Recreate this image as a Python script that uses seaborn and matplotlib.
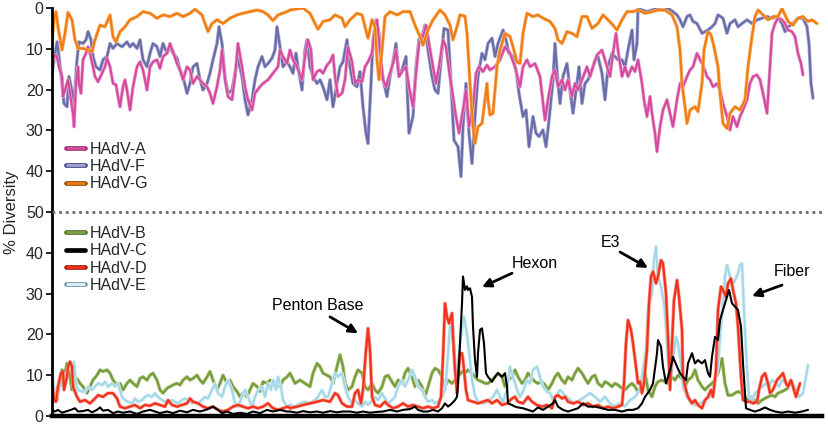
import matplotlib
matplotlib.use("Agg")
import matplotlib.pyplot as plt
import matplotlib.patheffects as pe
import seaborn as sns

# ---------------- data (position along genome, % diversity) ----------------
A_pts = [(0,13.6),(1,12.7),(3,11.5),(5,11.9),(7,14.4),(10,16.8),(11,21.7),(14,19.3),(16,17.6),(19,22.5),
(21,25.8),(22,29.1),(24,18.5),(26,14.4),(27,18.5),(29,20.9),(31,12.7),(34,11.1),(36,9.5),(38,11.1),
(41,14.4),(43,16.8),(46,18.1),(50,16.0),(53,14.4),(55,12.3),(58,14.4),(61,18.5),(64,18.8),(66,21.7),
(68,24.2),(71,19.3),(73,17.6),(75,20.1),(78,25.0),(81,19.3),(85,14.4),(88,13.2),(91,15.2),(95,20.1),
(98,14.4),(101,13.2),(105,12.7),(108,14.8),(111,11.9),(115,11.1),(118,8.7),(121,10.7),(125,13.6),(128,15.2),
(131,17.6),(135,14.4),(138,15.2),(141,18.5),(145,16.8),(148,17.6),(151,18.5),(155,19.3),(158,20.9),(161,23.4),
(165,19.3),(168,15.2),(170,10.3),(173,17.6),(176,21.7),(180,22.5),(183,16.8),(186,8.7),(190,14.4),(193,19.3),
(196,22.5),(200,25.0),(203,20.9),(208,19.3),(211,18.5),(216,17.6),(221,16.0),(226,14.4),(228,10.3),(231,11.9),
(235,13.6),(238,10.3),(241,12.7),(245,14.4),(250,17.6),(253,11.9),(256,7.8),(259,10.3),(261,17.6),(265,15.6),
(268,15.2),(271,16.0),(275,14.0),(278,13.2),(281,11.5),(283,16.8),(286,21.7),(290,20.9),(293,17.6),(296,9.5),
(300,13.2),(303,18.5),(306,17.6),(310,18.1),(313,14.4),(316,13.2),(320,11.1),(323,5.0),(325,2.9),(328,10.3),
(331,17.6),(334,19.3),(337,16.8),(341,13.6),(344,10.3),(347,16.8),(351,15.2),(354,14.4),(357,19.3),(361,24.2),
(364,16.0),(367,8.7),(371,7.0),(374,4.2),(377,8.7),(381,14.4),(384,18.5),(387,14.4),(391,7.8),(394,9.5),
(397,15.2),(401,21.7),(404,26.6),(407,30.7),(411,25.0),(414,20.1),(417,29.1),(421,24.2),(424,16.0),(427,14.4),
(431,15.6),(435,14.0),(438,15.2),(443,14.4),(448,12.7),(453,9.5),(458,11.1),(463,14.4),(468,19.3),(471,14.4),
(475,12.7),(478,14.4),(483,13.6),(488,16.8),(493,27.5),(496,22.5),(500,16.8),(503,15.2),(506,19.3),(510,17.6),
(513,20.1),(516,17.6),(520,21.7),(523,18.5),(526,20.1),(530,17.6),(535,14.4),(538,16.8),(541,14.4),(545,11.5),
(550,10.3),(555,14.4),(558,16.8),(561,11.1),(564,6.2),(566,10.3),(570,16.8),(573,14.4),(576,16.8),(580,14.4),
(583,15.6),(586,12.7),(590,18.5),(592,22.5),(595,26.6),(598,21.7),(600,25.8),(603,30.7),(605,35.2),(608,29.1),
(611,25.0),(615,22.5),(618,25.8),(621,29.1),(625,22.5),(628,18.5),(631,19.3),(635,16.8),(638,15.2),(641,14.4),
(645,11.1),(648,12.7),(651,14.0),(655,16.8),(658,17.6),(661,19.3),(665,18.5),(668,20.1),(671,23.4),(675,26.6),
(678,29.9),(681,26.6),(685,29.1),(688,26.6),(691,25.0),(695,22.5),(698,18.5),(701,16.8),(705,16.4),(708,17.6),
(711,20.9),(715,25.8),(718,14.4),(720,6.2),(723,3.8),(726,2.5),(730,2.9),(733,3.8),(736,5.4),(740,5.8),
(743,7.0),(746,11.1),(749,13.6),(751,16.4)]

F_pts = [(0,16.8),(1,14.4),(5,8.3),(7,11.9),(10,18.5),(12,23.4),(15,24.2),(17,16.8),(20,20.5),(22,23.4),
(25,12.7),(27,8.3),(31,8.7),(34,7.8),(36,5.8),(39,7.8),(41,11.9),(44,14.4),(48,15.2),(51,12.7),
(55,11.9),(58,8.7),(61,9.9),(65,8.7),(70,9.5),(75,8.3),(78,9.5),(81,8.7),(85,9.9),(88,7.8),
(91,12.7),(95,14.4),(98,11.1),(101,8.7),(105,9.5),(108,11.9),(111,8.7),(115,11.1),(118,9.5),(121,11.1),
(125,12.3),(128,15.2),(131,16.8),(135,20.9),(138,18.5),(141,14.4),(145,13.6),(148,17.6),(151,20.1),(155,18.5),
(158,16.0),(161,12.7),(165,8.7),(167,4.6),(170,8.7),(173,16.8),(176,20.9),(180,20.1),(183,16.0),(186,12.3),
(190,16.8),(193,22.5),(196,26.2),(200,22.5),(203,17.6),(206,14.4),(210,11.9),(213,14.4),(216,13.6),(220,12.3),
(223,10.3),(225,4.6),(228,9.5),(231,14.4),(235,13.2),(238,14.4),(241,16.0),(244,11.1),(246,14.4),(250,20.1),
(253,10.3),(255,7.8),(258,14.4),(261,16.8),(265,18.5),(268,17.6),(271,19.3),(275,22.5),(278,17.6),(281,24.2),
(285,18.5),(288,14.4),(291,13.2),(295,7.8),(298,14.4),(301,18.5),(305,19.3),(308,15.6),(311,24.2),(314,30.7),
(316,33.2),(319,18.5),(321,7.8),(324,2.9),(327,6.2),(329,14.4),(332,18.5),(335,21.7),(338,16.8),(341,13.2),
(344,8.7),(347,16.8),(351,14.4),(354,11.9),(357,30.7),(361,26.6),(364,14.4),(367,7.8),(371,6.2),(373,4.2),
(376,10.3),(380,16.8),(383,20.1),(386,20.9),(390,10.3),(392,5.0),(396,5.4),(399,18.5),(402,32.4),(406,34.0),
(409,41.3),(411,29.1),(414,18.5),(417,30.7),(420,38.1),(423,26.6),(426,16.8),(430,11.1),(433,12.7),(436,8.7),
(440,7.4),(443,11.9),(446,8.7),(451,5.4),(454,7.8),(457,11.1),(461,11.9),(464,15.2),(467,20.9),(471,26.6),
(474,25.0),(477,34.0),(481,26.6),(484,30.7),(487,31.5),(491,29.9),(494,34.0),(497,27.5),(501,17.6),(503,8.7),
(506,18.5),(508,23.4),(511,16.8),(515,13.6),(518,20.1),(521,25.8),(525,18.5),(527,14.4),(530,23.4),(533,18.5),
(536,17.6),(540,15.2),(543,12.7),(546,11.9),(550,16.0),(553,22.5),(556,14.4),(560,11.1),(563,11.9),(566,12.7),
(570,12.7),(573,14.4),(576,10.3),(580,5.4),(582,12.7),(585,8.7),(586,0.1),(590,0.5),(595,0.9),(600,0.5),
(605,0.1),(610,0.5),(616,0.1),(621,0.9),(625,1.7),(628,2.9),(631,4.6),(635,2.1),(638,1.7),(641,3.3),
(645,3.8),(650,6.2),(653,5.8),(656,5.4),(660,4.6),(663,3.8),(666,1.7),(671,2.5),(675,6.2),(678,3.8),
(683,2.9),(686,4.6),(690,3.8),(695,2.9),(700,3.8),(705,2.9),(710,2.5),(715,2.1),(720,2.5),(725,2.1),
(730,3.8),(733,5.8),(736,4.6),(741,3.8),(746,2.5),(751,2.5),(755,4.6),(757,8.7),(759,18.5),(761,22.1)]

G_pts = [(0,8.3),(2,2.9),(4,0.9),(6,4.6),(10,10.3),(13,6.2),(16,1.1),(20,2.9),(23,7.8),(26,9.9),
(31,9.9),(36,10.3),(40,10.7),(43,7.8),(48,4.2),(53,4.6),(58,1.7),(61,7.0),(64,8.3),(68,5.8),
(73,4.6),(78,2.9),(85,2.1),(91,0.9),(98,1.3),(105,2.5),(111,1.7),(118,2.1),(125,1.3),(131,2.1),
(138,1.3),(143,0.3),(150,1.7),(153,3.8),(156,5.8),(160,3.8),(165,2.9),(171,3.8),(178,2.5),(185,1.7),
(191,1.3),(198,0.9),(205,0.5),(211,0.9),(216,1.7),(221,3.1),(226,1.7),(235,0.9),(238,0.5),(251,0.0),
(258,1.3),(263,3.8),(266,5.2),(271,3.3),(278,2.9),(283,1.7),(290,2.5),(293,4.6),(298,2.9),(305,1.3),
(310,1.7),(313,4.6),(316,7.4),(320,2.9),(323,4.6),(325,12.7),(327,17.6),(330,10.3),(333,2.1),(338,0.9),
(345,1.7),(351,0.9),(358,0.9),(363,4.2),(368,7.0),(371,9.1),(376,5.4),(381,2.9),(388,0.5),(393,1.7),
(398,4.2),(401,7.8),(405,4.6),(408,1.7),(413,2.0),(415,6.2),(418,18.5),(421,29.1),(423,33.2),(426,29.1),
(430,28.3),(433,22.5),(435,18.5),(436,22.5),(438,26.2),(441,25.8),(445,14.4),(448,10.3),(453,6.2),(458,7.0),
(461,9.5),(465,13.2),(468,13.6),(471,6.2),(475,1.3),(481,2.1),(486,1.7),(491,2.5),(498,3.3),(503,5.0),
(506,7.8),(510,8.7),(515,5.8),(520,6.2),(525,7.0),(530,2.1),(535,2.1),(540,5.0),(546,3.8),(551,1.7),
(556,2.9),(561,4.2),(565,5.4),(570,2.9),(575,0.9),(581,0.9),(586,0.5),(593,1.3),(600,0.9),(606,0.5),
(613,0.5),(620,1.7),(625,4.6),(628,10.3),(630,18.5),(633,24.2),(635,28.3),(638,25.0),(643,24.2),(646,25.4),
(650,18.5),(652,10.3),(656,5.8),(659,6.6),(662,9.5),(666,14.4),(668,20.9),(671,28.3),(675,29.5),(678,25.8),
(683,24.2),(688,25.0),(693,22.5),(696,14.4),(700,7.0),(703,2.1),(706,0.5),(711,1.7),(716,2.9),(721,2.1),
(726,2.1),(730,0.1),(733,1.7),(736,3.3),(741,4.2),(746,2.5),(751,2.1),(756,3.3),(760,2.9),(765,3.8)]

B_pts = [(0,9.6),(2,6.4),(5,3.9),(7,8.0),(10,11.3),(13,10.5),(15,12.9),(17,11.3),(20,6.4),(22,8.0),
(25,9.2),(28,8.0),(31,7.2),(35,5.6),(38,7.2),(41,8.8),(45,10.0),(48,11.3),(51,10.9),(55,11.3),
(58,10.5),(61,8.8),(65,7.6),(68,8.0),(71,6.4),(75,8.0),(78,8.8),(81,8.0),(85,7.2),(88,9.2),
(91,9.6),(95,8.8),(98,10.0),(101,10.5),(105,8.8),(108,6.4),(111,5.6),(115,6.8),(118,7.2),(121,7.6),
(125,8.0),(128,7.6),(131,8.8),(135,9.6),(138,8.8),(141,9.2),(145,10.0),(148,8.8),(151,8.0),(155,9.6),
(158,10.9),(161,8.8),(165,6.4),(168,8.0),(171,10.0),(175,8.0),(178,8.8),(181,7.2),(185,6.0),(188,4.7),
(191,5.6),(195,4.7),(198,6.4),(201,8.0),(205,7.2),(208,6.0),(211,8.4),(215,8.0),(218,8.8),(221,8.4),
(225,8.0),(228,7.2),(231,8.8),(235,9.6),(238,10.5),(243,8.0),(248,8.8),(253,8.0),(258,7.2),(261,10.5),
(265,12.9),(268,12.1),(271,10.5),(275,10.0),(278,9.6),(281,8.0),(285,12.1),(288,15.0),(291,12.1),(293,8.0),
(296,6.4),(300,7.2),(303,9.6),(306,11.3),(310,10.5),(313,7.2),(316,6.4),(320,8.0),(323,6.4),(326,5.6),
(330,7.2),(333,9.6),(336,10.0),(340,8.4),(343,7.2),(346,8.8),(350,8.0),(353,10.5),(356,11.7),(360,9.6),
(363,7.2),(366,8.8),(370,7.2),(373,4.7),(376,7.2),(380,10.5),(383,11.7),(386,11.3),(390,9.6),(393,7.2),
(396,8.8),(400,8.0),(403,8.8),(406,9.6),(410,10.9),(413,10.5),(416,11.3),(420,10.5),(423,9.6),(426,8.8),
(430,8.4),(433,8.0),(436,8.0),(440,8.8),(443,9.6),(446,10.5),(450,9.6),(453,7.2),(456,8.8),(460,9.6),
(463,11.3),(466,9.6),(470,8.0),(473,8.8),(476,10.5),(480,9.2),(483,8.4),(486,8.0),(490,8.4),(493,7.6),
(496,6.4),(500,8.0),(503,9.6),(506,10.5),(510,8.8),(513,8.0),(516,9.6),(520,8.8),(523,10.5),(526,11.7),
(530,10.5),(533,9.2),(536,8.0),(540,9.6),(543,10.0),(546,8.0),(550,7.2),(553,8.4),(556,8.0),(560,7.2),
(563,8.0),(566,7.6),(570,6.8),(573,6.4),(576,7.2),(580,8.0),(583,7.2),(586,6.0),(590,7.2),(593,10.5),
(596,6.4),(600,4.7),(603,7.2),(606,8.4),(610,8.8),(613,8.4),(616,8.0),(620,9.6),(623,8.8),(626,10.0),
(630,9.2),(633,7.2),(636,8.8),(640,9.6),(643,11.3),(646,8.8),(650,7.2),(653,6.4),(656,7.2),(660,8.0),
(663,8.8),(666,10.5),(670,14.1),(673,8.0),(676,5.1),(680,5.1),(683,5.6),(686,6.0),(690,5.6),(693,4.7),
(696,3.9),(700,4.7),(703,3.5),(706,3.1),(710,3.9),(713,4.3),(716,4.7),(720,5.1),(723,4.7),(726,5.6),
(730,6.0),(733,6.4),(736,6.8)]

C_pts = [(0,1.5),(3,1.1),(6,1.5),(10,0.8),(15,1.2),(20,1.6),(23,1.9),(26,1.1),(31,1.2),(36,1.5),
(40,0.9),(45,1.5),(48,2.1),(51,1.3),(56,1.5),(61,0.7),(66,1.1),(71,0.8),(78,1.1),(85,0.5),
(91,1.1),(98,1.5),(103,1.1),(108,0.7),(115,1.1),(121,0.7),(128,1.3),(135,0.9),(141,1.5),(148,1.1),
(155,1.6),(161,2.3),(166,1.5),(170,0.7),(175,1.1),(181,0.5),(188,0.8),(195,0.5),(201,1.1),(208,0.7),
(215,1.5),(221,1.1),(228,1.5),(235,1.1),(238,1.1),(245,0.8),(251,1.2),(258,0.9),(265,1.1),(271,0.8),
(278,1.2),(285,0.9),(291,1.1),(298,1.1),(305,0.8),(311,1.1),(318,0.8),(325,1.0),(331,1.1),(338,1.5),
(345,1.1),(351,1.5),(358,1.7),(363,2.3),(366,1.5),(371,1.1),(376,1.1),(381,1.5),(386,1.1),(390,1.9),
(393,3.1),(396,2.3),(400,3.1),(403,3.9),(405,4.7),(406,8.0),(408,17.8),(410,27.6),(411,34.2),(413,30.9),
(415,31.8),(416,30.9),(418,31.3),(420,29.2),(421,21.9),(423,13.7),(425,9.6),(426,15.4),(428,21.1),(430,21.5),
(432,17.8),(434,10.5),(436,9.6),(440,8.4),(443,9.6),(446,10.5),(450,9.6),(453,10.5),(455,7.2),(456,3.1),
(460,2.7),(463,2.3),(466,2.1),(471,1.9),(476,1.5),(481,1.1),(486,2.1),(491,1.5),(496,2.3),(501,3.1),
(503,3.9),(506,2.3),(511,1.5),(516,1.1),(521,1.5),(526,1.9),(531,3.1),(536,2.3),(543,2.3),(550,1.9),
(556,1.5),(563,1.5),(570,1.1),(576,1.5),(581,1.5),(586,1.9),(590,3.1),(593,4.7),(598,6.4),(601,8.0),
(605,15.4),(606,18.6),(609,17.0),(611,12.1),(614,8.0),(616,9.6),(619,12.1),(621,14.5),(625,12.1),(628,10.5),
(631,9.6),(634,8.8),(636,12.9),(640,15.4),(643,12.9),(646,13.7),(650,12.9),(653,13.7),(656,10.5),(658,9.6),
(660,14.5),(663,19.4),(666,18.6),(668,23.5),(671,26.0),(675,29.2),(677,30.9),(680,27.6),(683,26.8),(686,26.0),
(689,21.9),(691,12.9),(694,1.9),(698,1.5),(703,1.1),(708,1.5),(713,2.1),(718,1.5),(723,1.1),(730,0.8),
(736,1.1),(743,0.8),(750,1.1),(756,1.5)]

D_pts = [(0,8.0),(2,3.9),(4,3.5),(6,7.2),(9,10.5),(11,10.9),(12,6.4),(15,9.6),(16,12.1),(18,13.3),
(20,12.1),(21,7.2),(25,4.7),(28,3.5),(33,3.9),(38,3.1),(43,4.3),(46,5.1),(51,4.7),(56,5.6),
(61,5.6),(65,4.3),(68,2.3),(73,1.9),(78,2.3),(83,2.7),(88,1.9),(93,2.7),(98,2.5),(103,3.1),
(108,2.7),(113,2.3),(116,3.9),(120,2.7),(125,2.3),(130,2.7),(135,3.1),(138,4.3),(141,3.5),(146,3.1),
(151,2.3),(156,1.9),(161,2.3),(166,1.5),(171,1.1),(176,1.5),(181,2.3),(186,2.7),(191,2.3),(196,1.9),
(201,2.3),(206,1.9),(211,2.3),(216,3.1),(221,1.9),(226,1.5),(231,1.9),(236,2.3),(238,1.9),(245,2.3),
(251,2.7),(258,3.1),(265,3.5),(271,3.9),(278,3.5),(283,5.6),(286,5.1),(290,3.1),(295,2.3),(300,2.3),
(303,5.6),(306,6.4),(309,3.1),(311,6.4),(314,16.2),(316,21.5),(318,16.2),(320,4.7),(323,2.7),(328,2.3),
(333,3.5),(336,2.7),(341,1.9),(346,2.3),(351,3.1),(356,2.3),(361,2.7),(366,2.3),(371,1.9),(376,2.3),
(381,1.9),(386,2.3),(389,4.7),(391,14.5),(393,27.6),(395,24.3),(397,22.7),(400,25.2),(401,19.4),(403,11.3),
(405,5.6),(406,9.6),(408,15.4),(410,15.4),(411,13.7),(414,6.4),(416,3.9),(421,3.5),(426,3.1),(431,3.5),
(436,3.9),(440,3.1),(445,3.9),(450,2.7),(455,3.1),(460,4.3),(463,4.7),(466,3.5),(471,3.1),(476,4.7),
(480,3.5),(485,2.7),(490,2.3),(495,2.7),(500,1.9),(503,4.7),(506,5.1),(510,4.3),(513,4.7),(516,3.5),
(521,3.1),(526,3.5),(531,2.7),(536,3.1),(541,2.3),(546,2.7),(551,1.9),(556,2.3),(561,1.9),(566,2.3),
(570,2.7),(572,8.0),(574,17.8),(576,23.5),(579,21.1),(581,17.8),(584,12.1),(586,8.0),(588,8.4),(590,5.6),
(592,8.0),(595,16.2),(597,27.6),(599,34.2),(601,35.4),(604,32.5),(606,34.2),(609,38.2),(611,37.4),(614,30.1),
(616,19.4),(618,6.4),(620,17.8),(622,28.4),(625,33.3),(627,29.2),(630,21.1),(631,9.6),(634,6.4),(636,4.7),
(640,3.1),(643,3.9),(646,2.7),(650,1.9),(653,3.9),(656,4.7),(659,6.4),(661,4.7),(664,11.3),(666,26.0),
(669,31.7),(671,30.9),(674,29.2),(676,32.5),(679,33.7),(681,30.9),(684,27.6),(686,21.9),(689,9.6),(691,3.9),
(695,3.5),(698,3.5),(701,3.1),(705,3.5),(707,6.4),(710,9.6),(713,10.5),(716,8.0),(718,5.6),(721,6.4),
(725,8.8),(728,9.6),(731,10.5),(734,8.0),(736,7.2),(739,8.8),(741,7.2),(744,4.7),(746,6.4),(748,8.0)]

E_pts = [(0,10.5),(2,6.4),(5,4.7),(8,7.2),(11,8.8),(15,10.5),(18,12.9),(21,12.1),(22,13.3),(24,8.0),
(26,6.4),(30,6.0),(33,6.0),(36,7.2),(40,6.4),(43,7.2),(46,8.0),(50,7.6),(53,8.4),(56,7.2),
(60,8.0),(63,7.2),(66,8.0),(70,4.7),(73,3.9),(76,3.5),(80,3.1),(83,4.3),(86,3.5),(90,3.9),
(93,4.7),(96,5.1),(100,4.7),(103,5.6),(106,4.7),(110,3.9),(113,3.5),(116,3.1),(120,3.9),(123,3.5),
(126,3.1),(130,3.9),(133,4.3),(136,3.9),(140,3.1),(143,3.5),(146,3.1),(150,3.9),(153,4.7),(156,4.3),
(160,6.4),(163,8.0),(166,5.6),(170,4.7),(173,7.2),(176,8.8),(180,6.4),(183,3.1),(186,2.3),(190,4.7),
(193,6.4),(196,4.7),(200,2.3),(203,4.7),(206,6.4),(210,7.2),(213,4.7),(216,8.0),(219,6.4),(221,8.8),
(224,6.4),(226,9.6),(229,7.2),(231,3.9),(235,2.3),(238,2.7),(243,2.3),(248,3.1),(253,3.5),(258,3.1),
(263,3.9),(266,4.7),(270,6.4),(273,4.7),(276,4.7),(280,8.0),(283,10.5),(286,9.6),(290,10.5),(293,7.2),
(296,4.7),(300,3.1),(303,3.9),(306,3.1),(310,2.3),(313,3.5),(316,2.7),(320,3.9),(323,4.7),(326,3.9),
(330,5.6),(333,4.3),(336,3.1),(340,3.9),(343,4.7),(346,7.2),(350,8.8),(353,7.2),(356,8.8),(360,11.3),
(363,9.6),(366,7.2),(370,6.4),(373,4.7),(376,3.5),(380,3.9),(383,3.1),(386,3.5),(390,4.7),(393,6.4),
(396,15.0),(398,22.0),(401,22.0),(403,14.0),(405,10.0),(409,20.0),(412,24.3),(415,20.0),(418,13.7),(420,9.0),
(423,5.0),(426,3.5),(431,3.1),(436,3.5),(441,4.7),(445,6.4),(448,4.7),(451,3.5),(455,6.4),(458,12.1),
(461,9.6),(465,6.4),(468,4.7),(471,6.0),(475,8.8),(478,8.0),(481,11.3),(485,12.1),(488,9.6),(491,7.2),
(495,6.0),(498,5.6),(501,3.9),(503,4.7),(508,6.4),(513,5.1),(518,3.9),(523,3.1),(528,3.9),(533,4.7),
(538,5.6),(543,4.7),(548,3.5),(553,4.7),(558,3.1),(563,2.3),(568,3.1),(573,2.3),(578,3.9),(583,4.7),
(588,6.4),(591,11.3),(594,16.2),(596,26.0),(600,30.1),(602,38.2),(604,41.5),(606,34.2),(609,31.7),(612,27.6),
(614,21.9),(616,13.7),(619,9.6),(621,13.7),(624,19.4),(626,17.8),(629,12.9),(631,7.2),(635,4.7),(638,3.5),
(643,2.7),(648,3.1),(653,3.9),(658,4.7),(662,6.4),(666,12.1),(668,19.4),(671,27.6),(673,34.2),(675,37.0),
(678,34.2),(680,31.7),(683,33.3),(686,35.0),(688,37.0),(690,37.4),(692,26.0),(695,11.3),(697,4.7),(700,3.9),
(703,5.6),(707,6.4),(710,7.2),(714,8.0),(717,7.2),(720,8.8),(724,8.0),(727,7.2),(730,8.8),(734,8.0),
(737,7.2),(740,8.0),(744,6.4),(747,4.7),(751,5.6),(754,9.6),(756,12.5)]

top_labels = ["HAdV-A", "HAdV-F", "HAdV-G"]
bottom_labels = ["HAdV-B", "HAdV-C", "HAdV-D", "HAdV-E"]
top_ticks = [0, 10, 20, 30, 40, 50]
bottom_ticks = [0, 10, 20, 30, 40]
annotations = [  # label, text position, arrow tail, arrow head
    ("Penton Base", (266, 27.0), (278, 24.3), (306, 20.3)),
    ("Hexon", (483, 37.5), (460, 35.0), (430, 31.6)),
    ("E3", (559, 42.6), (568, 40.2), (596, 36.3)),
    ("Fiber", (740, 35.3), (730, 32.1), (700, 29.4)),
]

# styles: core color, glow color (None = no glow), legend edge, legend fill
styles = {
    "HAdV-A": ("#D54A9E", "#EAA3CD", "#9A2F6C", "#D54A9E"),
    "HAdV-F": ("#6A6CA9", "#ACADD4", "#3E4180", "#A3A6D2"),
    "HAdV-G": ("#F07C12", "#F8B672", "#8A4A00", "#F07C12"),
    "HAdV-B": ("#789C3A", "#ADC783", "#4F6A22", "#7FA145"),
    "HAdV-C": ("#000000", None, "#000000", "#000000"),
    "HAdV-D": ("#F2311C", "#F89284", "#A01E10", "#F2311C"),
    "HAdV-E": ("#A4D8E6", "#D7EFF6", "#6E96A8", "#E4F4F8"),
}
series = {"HAdV-A": A_pts, "HAdV-F": F_pts, "HAdV-G": G_pts,
          "HAdV-B": B_pts, "HAdV-C": C_pts, "HAdV-D": D_pts, "HAdV-E": E_pts}

sns.set_style("white")
plt.rcParams["font.family"] = ["Liberation Sans", "DejaVu Sans"]

fig = plt.figure(figsize=(8.29, 4.25), dpi=100)
L, W = 52 / 829, 770 / 829
ax_top = fig.add_axes([L, 1 - 212 / 425, W, 204 / 425])
ax_bot = fig.add_axes([L, 1 - 416 / 425, W, 204 / 425])


def draw(ax, name, lw):
    pts = series[name]
    xs = [p[0] for p in pts]
    ys = [p[1] for p in pts]
    core, glow, _, _ = styles[name]
    effects = [pe.Normal()] if glow is None else [pe.Stroke(linewidth=lw + 1.0, foreground=glow), pe.Normal()]
    sns.lineplot(x=xs, y=ys, ax=ax, color=core, linewidth=lw, estimator=None, sort=False,
                 label=name, legend=False, path_effects=effects)


for name in ["HAdV-F", "HAdV-A", "HAdV-G"]:
    draw(ax_top, name, 1.5)
for name in ["HAdV-B", "HAdV-E", "HAdV-D", "HAdV-C"]:
    draw(ax_bot, name, 1.5)

for ax in (ax_top, ax_bot):
    ax.set_xlim(0, 770)
    ax.set_xticks([])
    ax.set_xlabel("")
    ax.set_ylabel("")
    for s in ("top", "right"):
        ax.spines[s].set_visible(False)
    ax.spines["left"].set_linewidth(2.0)
    ax.spines["left"].set_color("black")
    ax.tick_params(axis="y", direction="out", length=4, width=1.2, color="black",
                   labelsize=11.5, pad=2, left=True)

ax_top.set_ylim(50, 0)
ax_top.set_yticks(top_ticks)
ax_top.spines["bottom"].set_visible(False)
ax_bot.set_ylim(0, 50)
ax_bot.set_yticks(bottom_ticks)
ax_bot.spines["bottom"].set_linewidth(3.2)
ax_bot.spines["bottom"].set_color("black")

# dotted divider at 50 %
ax_bot.axhline(50, color="#6a6a6a", linewidth=2.0, linestyle=(0, (1.0, 1.4)),
               clip_on=False, zorder=5)


def make_legend(ax, names, anchor):
    handles = []
    for n in names:
        _, _, edge, fill = styles[n]
        h = plt.Line2D([], [], color=fill, linewidth=2.0, solid_capstyle="butt",
                       path_effects=[pe.Stroke(linewidth=3.4, foreground=edge, capstyle="round"),
                                     pe.Normal()])
        handles.append(h)
    leg = ax.legend(handles, names, loc="upper left", bbox_to_anchor=anchor, frameon=False,
                    fontsize=11.5, handlelength=1.2, handletextpad=0.3, labelspacing=0.15,
                    borderpad=0, borderaxespad=0)
    return leg


make_legend(ax_top, top_labels, (0.018, 0.345))
make_legend(ax_bot, bottom_labels, (0.018, 0.932))

for label, tpos, tail, head in annotations:
    ax_bot.text(tpos[0], tpos[1], label, ha="center", va="center", fontsize=11.5, color="black")
    ax_bot.annotate("", xy=head, xytext=tail,
                    arrowprops=dict(arrowstyle="-|>", color="black", lw=2.0,
                                    mutation_scale=13, shrinkA=0, shrinkB=0))

fig.text(12 / 829, 1 - 212 / 425, "% Diversity", rotation=90, ha="center", va="center", fontsize=12)

fig.savefig("out.png", dpi=100)
